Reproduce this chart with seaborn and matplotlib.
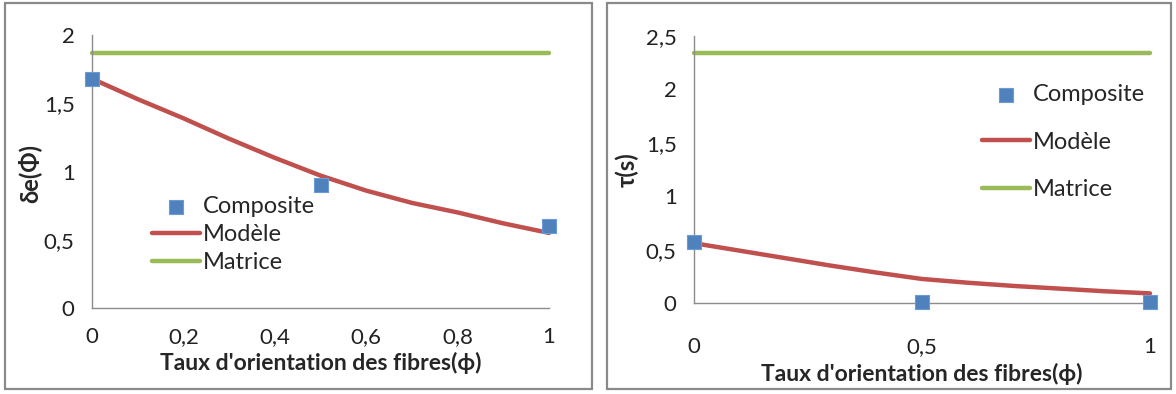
import matplotlib
matplotlib.use("Agg")
import matplotlib.pyplot as plt
import seaborn as sns
from matplotlib.patches import Rectangle
from matplotlib.ticker import FuncFormatter, MultipleLocator

# --- data ---
phi_pts = [0, 0.5, 1]
de_composite = [1.68, 0.90, 0.60]
tau_composite = [0.57, 0.01, 0.01]

phi_model = [0, 0.1, 0.2, 0.3, 0.4, 0.5, 0.6, 0.7, 0.8, 0.9, 1.0]
de_model = [1.68, 1.53, 1.39, 1.24, 1.10, 0.97, 0.86, 0.77, 0.70, 0.62, 0.55]
tau_model = [0.56, 0.49, 0.42, 0.35, 0.285, 0.225, 0.19, 0.16, 0.135, 0.11, 0.09]

phi_matrice = [0, 1]
de_matrice = [1.87, 1.87]
tau_matrice = [2.34, 2.34]

BLUE = "#4F81BD"
RED = "#C0504D"
GREEN = "#9BBB59"
GRAY = "#8C8C8C"

W, H = 1176, 394

sns.set_style("white")
plt.rcParams["font.family"] = ["Lato", "DejaVu Sans"]


def virgule(x, pos):
    return f"{x:g}".replace(".", ",")


def draw_panel(ax, comp, model, matrice, ymax, xstep, xpad):
    sns.lineplot(x=phi_matrice, y=matrice, ax=ax, color=GREEN, linewidth=3.2,
                 label="Matrice", clip_on=False)
    sns.lineplot(x=phi_model, y=model, ax=ax, color=RED, linewidth=3.2,
                 label="Modèle", clip_on=False)
    sns.scatterplot(x=phi_pts, y=comp, ax=ax, color=BLUE, marker="s", s=115,
                    edgecolor="#6a9bd8", linewidth=0.8, label="Composite",
                    clip_on=False, zorder=5)
    ax.set_xlim(0, 1)
    ax.set_ylim(0, ymax)
    ax.xaxis.set_major_locator(MultipleLocator(xstep))
    ax.yaxis.set_major_locator(MultipleLocator(0.5))
    ax.xaxis.set_major_formatter(FuncFormatter(virgule))
    ax.yaxis.set_major_formatter(FuncFormatter(virgule))
    for side in ["top", "right"]:
        ax.spines[side].set_visible(False)
    for side in ["left", "bottom"]:
        ax.spines[side].set_color(GRAY)
        ax.spines[side].set_linewidth(1)
    ax.tick_params(axis="both", colors=GRAY, labelcolor="#222222",
                   labelsize=16, length=6.5, width=1, direction="out")
    ax.tick_params(axis="x", pad=xpad)
    ax.tick_params(axis="y", pad=6)
    ax.set_xlabel("Taux d'orientation des fibres(ϕ)", fontsize=16.5,
                  fontweight="bold", labelpad=4)
    ax.set_ylabel("")


fig = plt.figure(figsize=(W / 100, H / 100), dpi=100)

# frames around each chart, like the Excel chart areas
for x0, x1 in [(5, 592), (607, 1171)]:
    fig.patches.append(Rectangle((x0 / W, 5 / H), (x1 - x0) / W, 386 / H,
                                 transform=fig.transFigure, fill=False,
                                 edgecolor="#8a8a8a", linewidth=1.6))

ax1 = fig.add_axes([92 / W, 1 - 308 / H, 457 / W, 273 / H])
draw_panel(ax1, de_composite, de_model, de_matrice, 2, 0.2, 7)
fig.text(29 / W, 1 - 173 / H, "δe(Φ)", rotation=90, ha="center", va="center",
         fontsize=17, fontweight="bold")
h, l = ax1.get_legend_handles_labels()
ax1.legend(h[::-1], l[::-1], loc="upper left", bbox_to_anchor=(0.131, 0.41),
           frameon=False, fontsize=17, handlelength=2.05, handletextpad=0.1,
           labelspacing=0.3, borderpad=0, borderaxespad=0)

ax2 = fig.add_axes([694 / W, 1 - 303 / H, 456 / W, 267 / H])
draw_panel(ax2, tau_composite, tau_model, tau_matrice, 2.5, 0.5, 18)
fig.text(627 / W, 1 - 170 / H, "τ(s)", rotation=90, ha="center", va="center",
         fontsize=17, fontweight="bold")
h, l = ax2.get_legend_handles_labels()
ax2.legend(h[::-1], l[::-1], loc="upper left", bbox_to_anchor=(0.631, 0.82),
           frameon=False, fontsize=17, handlelength=2.05, handletextpad=0.1,
           labelspacing=1.12, borderpad=0, borderaxespad=0)

fig.savefig("out.png", dpi=100)
